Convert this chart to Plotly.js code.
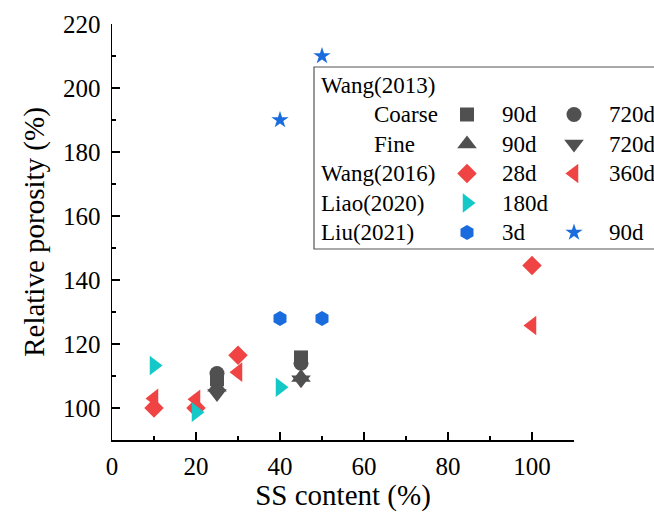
<!DOCTYPE html>
<html>
<head>
<meta charset="utf-8">
<script src="https://cdn.plot.ly/plotly-3.0.1.min.js"></script>
<style>
html,body{margin:0;padding:0;background:#fff;}
#chart{width:654px;height:518px;}
</style>
</head>
<body>
<div id="chart"></div>
<script>
// ---- Data ----
const wang2013X = [25, 45];
const coarse90d = [109, 115.8];
const coarse720d = [110.8, 114];
const fine90d = [106.5, 109.5];
const fine720d = [104.5, 108.8];

const wang2016X = [10, 20, 30, 100];
const wang2016_28d = [100, 100, 116.5, 144.5];
const wang2016_360d = [103, 102.7, 111.2, 125.8];

const liao2020X = [10, 20, 40];
const liao2020_180d = [113.3, 98.7, 106.5];

const liu2021X = [40, 50];
const liu2021_3d = [128, 128];
const liu2021_90d = [190, 210];

const xTickVals = [0, 20, 40, 60, 80, 100];
const yTickVals = [100, 120, 140, 160, 180, 200, 220];

// legend row labels
const legendRowLabels = ["Wang(2013)", "Coarse", "Fine", "Wang(2016)", "Liao(2020)", "Liu(2021)"];

// ---- Styles ----
const GREY = "#505050", RED = "#F04444", CYAN = "#14C8C8", BLUE = "#1A6BDD";
const FONT = "Liberation Serif, Times New Roman, serif";

const series = [
  {x: wang2016X, y: wang2016_28d, sym: "diamond", color: RED, size: 15, lab: "28d", row: 3, col: 0},
  {x: wang2016X, y: wang2016_360d, sym: "triangle-left", color: RED, size: 17, lab: "360d", row: 3, col: 1},
  {x: wang2013X, y: coarse90d, sym: "square", color: GREY, size: 14, lab: "90d", row: 1, col: 0},
  {x: wang2013X, y: coarse720d, sym: "circle", color: GREY, size: 15, lab: "720d", row: 1, col: 1},
  {x: wang2013X, y: fine90d, sym: "triangle-up", color: GREY, size: 17, lab: "90d", row: 2, col: 0},
  {x: wang2013X, y: fine720d, sym: "triangle-down", color: GREY, size: 17, lab: "720d", row: 2, col: 1},
  {x: liao2020X, y: liao2020_180d, sym: "triangle-right", color: CYAN, size: 17, lab: "180d", row: 4, col: 0},
  {x: liu2021X, y: liu2021_3d, sym: "hexagon", color: BLUE, size: 15, lab: "3d", row: 5, col: 0},
  {x: liu2021X, y: liu2021_90d, sym: "star", color: BLUE, size: 13, lab: "90d", row: 5, col: 1}
];

// plot area in pixels (for legend placement)
const L = 112, T = 24, W = 462, H = 416;
const px2x = p => (p - L) / W;
const py2y = p => (T + H - p) / H;
const rowY = r => 85 + r * 29.5;
const markerColX = [467, 574];
const textColX = [500, 607];

const traces = [];
series.forEach(s => {
  traces.push({
    type: "scatter", mode: "markers", x: s.x, y: s.y,
    marker: {symbol: s.sym, color: s.color, size: s.size, line: {width: 0}},
    showlegend: false, hoverinfo: "x+y", cliponaxis: false
  });
});
// legend keys drawn on an overlay axis in paper units
series.forEach(s => {
  traces.push({
    type: "scatter", mode: "markers", xaxis: "x2", yaxis: "y2",
    x: [px2x(markerColX[s.col])], y: [py2y(rowY(s.row))],
    marker: {symbol: s.sym, color: s.color, size: s.size, line: {width: 0}},
    showlegend: false, hoverinfo: "skip", cliponaxis: false
  });
});

const annotations = [];
legendRowLabels.forEach((t, i) => {
  const indent = (i === 1 || i === 2) ? 372 : 319;
  annotations.push({text: t, xref: "paper", yref: "paper", x: px2x(indent), y: py2y(rowY(i)),
    xanchor: "left", yanchor: "middle", showarrow: false, font: {family: FONT, size: 23, color: "#000"}});
});
series.forEach(s => {
  annotations.push({text: s.lab, xref: "paper", yref: "paper", x: px2x(textColX[s.col]), y: py2y(rowY(s.row)),
    xanchor: "left", yanchor: "middle", showarrow: false, font: {family: FONT, size: 23, color: "#000"}});
});

const axisCommon = {
  showline: true, linecolor: "#000", linewidth: 1.5, mirror: false,
  showgrid: false, zeroline: false,
  ticks: "inside", ticklen: 8, tickwidth: 1.5, tickcolor: "#000",
  tickfont: {family: FONT, size: 25, color: "#000"},
  minor: {ticks: "inside", ticklen: 4, tickwidth: 1.5, tickcolor: "#000", dtick: 10, showgrid: false}
};

const layout = {
  width: 654, height: 518,
  margin: {l: L, r: 654 - L - W, t: T, b: 518 - T - H, pad: 0},
  paper_bgcolor: "#fff", plot_bgcolor: "#fff",
  showlegend: false,
  font: {family: FONT},
  xaxis: Object.assign({}, axisCommon, {
    range: [0, 110], tickvals: xTickVals, ticklabelstandoff: 3,
    title: {text: "SS content (%)", font: {family: FONT, size: 29, color: "#000"}, standoff: 6}
  }),
  yaxis: Object.assign({}, axisCommon, {
    range: [90, 220], tickvals: yTickVals, ticklabelstandoff: 5,
    title: {text: "Relative porosity (%)", font: {family: FONT, size: 29, color: "#000"}, standoff: 10}
  }),
  xaxis2: {overlaying: "x", range: [0, 1], visible: false, fixedrange: true},
  yaxis2: {overlaying: "y", range: [0, 1], visible: false, fixedrange: true},
  shapes: [{
    type: "rect", xref: "paper", yref: "paper", layer: "below",
    x0: px2x(314), x1: px2x(658), y0: py2y(249), y1: py2y(67),
    line: {color: "#555", width: 1.2}, fillcolor: "#fff"
  }],
  annotations: annotations
};

Plotly.newPlot("chart", traces, layout, {staticPlot: true, displayModeBar: false});
</script>
</body>
</html>
